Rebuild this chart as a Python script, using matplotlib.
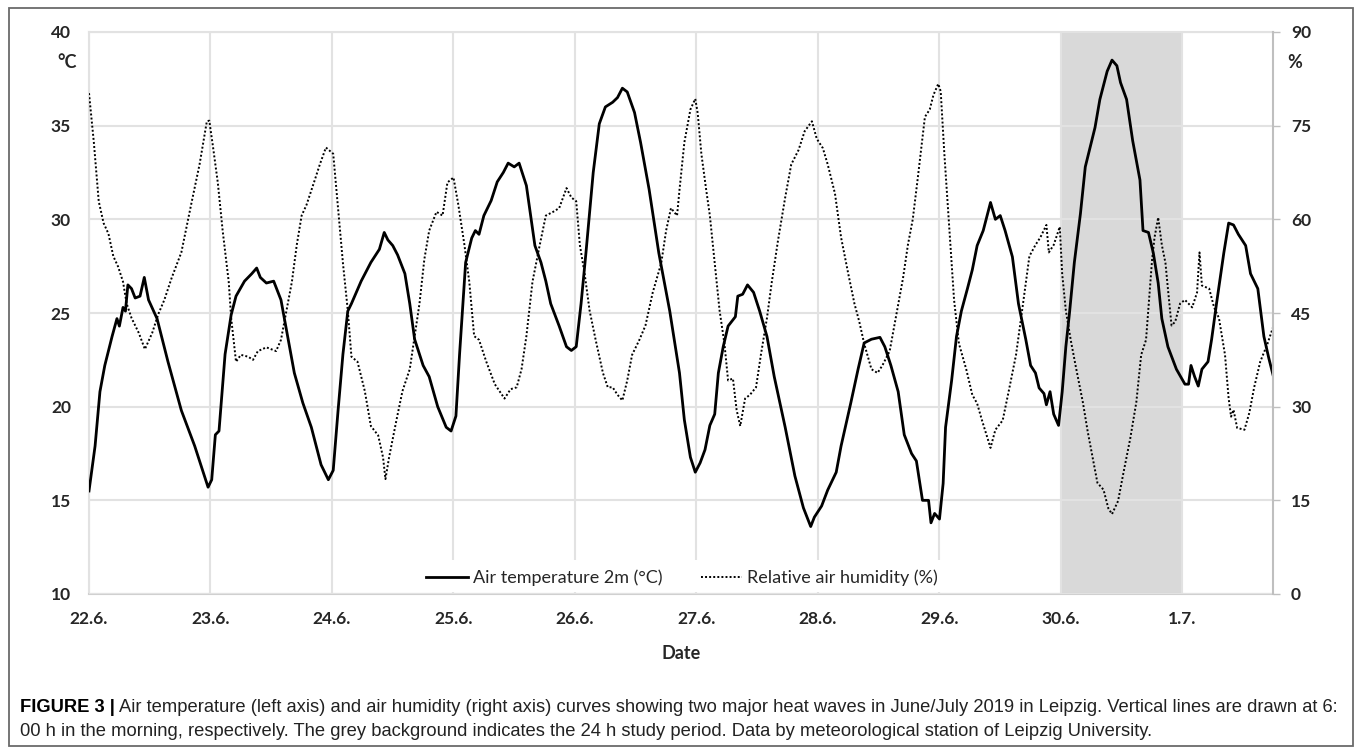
import numpy as np
import matplotlib.pyplot as plt
from matplotlib.patches import Rectangle
from matplotlib.lines import Line2D

## Daten (Tage ab 22.6. 6:00 h)
temp_day = [0.00, 0.05, 0.09, 0.13, 0.19, 0.23, 0.25, 0.28, 0.30, 0.32, 0.35, 0.38, 0.42, 0.455, 0.49,
            0.56, 0.65, 0.76, 0.87, 0.94, 0.98, 1.01, 1.04, 1.07, 1.12, 1.17, 1.21, 1.28, 1.34, 1.38,
            1.41, 1.46, 1.52, 1.58, 1.69, 1.76, 1.83, 1.91, 1.97, 2.01, 2.05, 2.09, 2.13, 2.16, 2.24,
            2.32, 2.39, 2.43, 2.46, 2.50, 2.54, 2.60, 2.64, 2.68, 2.75, 2.80, 2.87, 2.94, 2.98, 3.02,
            3.05, 3.10, 3.15, 3.18, 3.21, 3.25, 3.31, 3.36, 3.41, 3.45, 3.50, 3.54, 3.60, 3.67, 3.72,
            3.76, 3.80, 3.87, 3.93, 3.97, 4.01, 4.05, 4.09, 4.15, 4.20, 4.25, 4.31, 4.35, 4.39, 4.43,
            4.49, 4.54, 4.61, 4.69, 4.78, 4.86, 4.90, 4.95, 4.99, 5.03, 5.07, 5.11, 5.15, 5.18, 5.22,
            5.26, 5.32, 5.34, 5.38, 5.42, 5.47, 5.52, 5.58, 5.64, 5.73, 5.81, 5.88, 5.94, 5.97, 6.03,
            6.08, 6.15, 6.19, 6.27, 6.33, 6.38, 6.44, 6.51, 6.55, 6.60, 6.66, 6.71, 6.77, 6.81, 6.86,
            6.91, 6.93, 6.96, 7.00, 7.03, 7.05, 7.10, 7.14, 7.18, 7.23, 7.27, 7.31, 7.36, 7.42, 7.46,
            7.50, 7.54, 7.60, 7.65, 7.71, 7.75, 7.79, 7.82, 7.86, 7.88, 7.91, 7.94, 7.98, 8.01, 8.04,
            8.07, 8.11, 8.16, 8.20, 8.28, 8.32, 8.38, 8.42, 8.46, 8.49, 8.54, 8.59, 8.65, 8.675, 8.72,
            8.76, 8.80, 8.83, 8.88, 8.95, 9.02, 9.05, 9.07, 9.10, 9.13, 9.16, 9.21, 9.24, 9.28, 9.34,
            9.38, 9.42, 9.46, 9.52, 9.56, 9.62, 9.67, 9.71, 9.745]
temp_val = [15.5, 17.9, 20.8, 22.2, 23.75, 24.7, 24.3, 25.3, 25.1, 26.5, 26.3, 25.8, 25.9, 26.9, 25.7,
            24.7, 22.4, 19.8, 17.9, 16.5, 15.7, 16.1, 18.5, 18.7, 22.8, 24.9, 25.9, 26.7, 27.1, 27.4,
            26.9, 26.6, 26.7, 25.7, 21.8, 20.2, 18.9, 16.9, 16.1, 16.6, 19.8, 22.8, 25.1, 25.5, 26.7,
            27.7, 28.4, 29.3, 28.9, 28.6, 28.1, 27.1, 25.5, 23.6, 22.2, 21.6, 20.0, 18.9, 18.7, 19.5,
            22.8, 27.7, 29.0, 29.4, 29.2, 30.2, 31.0, 32.0, 32.5, 33.0, 32.8, 33.0, 31.8, 28.6, 27.7,
            26.7, 25.5, 24.3, 23.2, 23.0, 23.2, 25.5, 28.2, 32.5, 35.1, 36.0, 36.25, 36.5, 37.0, 36.8,
            35.7, 34.1, 31.6, 28.2, 25.1, 21.8, 19.3, 17.3, 16.5, 17.0, 17.7, 19.0, 19.6, 21.8, 23.2,
            24.3, 24.8, 25.9, 26.0, 26.5, 26.1, 25.1, 23.75, 21.6, 18.9, 16.3, 14.6, 13.6, 14.1, 14.7,
            15.55, 16.5, 17.9, 20.2, 22.0, 23.4, 23.6, 23.7, 23.2, 22.2, 20.8, 18.5, 17.5, 17.1, 15.0,
            15.0, 13.8, 14.3, 14.0, 15.9, 18.9, 21.4, 23.75, 25.1, 26.3, 27.3, 28.6, 29.4, 30.9, 30.0,
            30.2, 29.4, 28.0, 25.5, 23.6, 22.2, 21.8, 21.0, 20.7, 20.1, 20.8, 19.6, 19.0, 20.8, 23.2,
            25.0, 27.7, 30.3, 32.8, 34.9, 36.4, 37.9, 38.5, 38.2, 37.3, 36.4, 34.2, 32.1, 29.4, 29.3,
            28.2, 26.6, 24.7, 23.2, 22.0, 21.2, 21.2, 22.2, 21.6, 21.1, 22.0, 22.4, 23.6, 25.5, 28.2,
            29.8, 29.7, 29.2, 28.6, 27.1, 26.3, 23.75, 22.6, 21.7]

hum_day = [0.00, 0.04, 0.08, 0.12, 0.16, 0.20, 0.24, 0.28, 0.31, 0.35, 0.41, 0.46, 0.52, 0.57, 0.62,
           0.68, 0.76, 0.84, 0.91, 0.97, 0.99, 1.02, 1.06, 1.10, 1.15, 1.17, 1.21, 1.25, 1.31, 1.35,
           1.39, 1.46, 1.54, 1.58, 1.62, 1.67, 1.71, 1.75, 1.79, 1.86, 1.90, 1.95, 2.01, 2.05, 2.09,
           2.13, 2.16, 2.21, 2.27, 2.32, 2.38, 2.42, 2.44, 2.47, 2.53, 2.58, 2.64, 2.68, 2.72, 2.76,
           2.80, 2.86, 2.91, 2.95, 3.00, 3.04, 3.09, 3.13, 3.17, 3.21, 3.27, 3.34, 3.42, 3.47, 3.52,
           3.56, 3.60, 3.65, 3.71, 3.76, 3.82, 3.87, 3.93, 3.97, 4.01, 4.04, 4.08, 4.12, 4.17, 4.23,
           4.27, 4.31, 4.35, 4.39, 4.43, 4.47, 4.53, 4.58, 4.64, 4.71, 4.75, 4.79, 4.84, 4.86, 4.90,
           4.95, 4.99, 5.01, 5.04, 5.08, 5.11, 5.15, 5.19, 5.23, 5.26, 5.30, 5.33, 5.36, 5.40, 5.44,
           5.49, 5.53, 5.58, 5.62, 5.67, 5.73, 5.78, 5.84, 5.89, 5.95, 5.99, 6.04, 6.08, 6.14, 6.19,
           6.25, 6.30, 6.34, 6.38, 6.44, 6.49, 6.53, 6.59, 6.64, 6.70, 6.74, 6.78, 6.82, 6.88, 6.92,
           6.95, 6.99, 7.01, 7.04, 7.08, 7.12, 7.16, 7.22, 7.27, 7.31, 7.35, 7.42, 7.46, 7.52, 7.57,
           7.63, 7.68, 7.74, 7.79, 7.83, 7.88, 7.90, 7.94, 7.99, 8.01, 8.04, 8.08, 8.12, 8.18, 8.22,
           8.26, 8.30, 8.35, 8.39, 8.42, 8.47, 8.51, 8.57, 8.62, 8.66, 8.70, 8.75, 8.77, 8.80, 8.83,
           8.86, 8.88, 8.91, 8.94, 8.98, 9.02, 9.08, 9.12, 9.14, 9.16, 9.22, 9.26, 9.30, 9.35, 9.38,
           9.40, 9.42, 9.45, 9.51, 9.55, 9.59, 9.64, 9.70, 9.745]
hum_val = [80.2, 72.3, 62.9, 59.4, 57.7, 54.1, 52.4, 50.0, 46.5, 44.2, 41.8, 39.2, 41.8, 44.8, 47.1,
           50.6, 54.7, 62.3, 68.8, 75.7, 75.8, 71.7, 65.9, 58.2, 50.0, 44.2, 37.2, 38.3, 38.0, 37.5,
           38.9, 39.5, 38.9, 40.7, 44.8, 50.0, 55.9, 60.6, 62.3, 66.4, 68.8, 71.5, 70.5, 61.8, 53.0,
           45.4, 38.0, 37.2, 32.5, 26.9, 25.4, 21.9, 18.4, 21.9, 27.8, 32.5, 36.0, 41.3, 46.5, 53.6,
           58.2, 61.2, 60.6, 65.9, 66.7, 62.3, 55.9, 50.0, 41.3, 40.7, 37.2, 33.6, 31.3, 32.8, 33.1,
           36.0, 41.3, 50.0, 55.9, 60.6, 61.2, 61.8, 65.0, 63.5, 62.9, 55.9, 51.2, 45.4, 40.7, 35.4,
           33.1, 33.1, 31.9, 31.0, 34.2, 38.3, 40.7, 43.0, 48.3, 53.0, 58.2, 61.8, 60.6, 64.7, 72.3,
           77.6, 79.3, 77.0, 70.5, 64.7, 60.6, 53.0, 45.4, 40.1, 34.2, 34.5, 29.5, 26.9, 31.3, 31.9,
           33.1, 38.3, 44.2, 50.0, 56.5, 63.5, 68.8, 71.1, 74.1, 75.7, 72.9, 71.4, 68.8, 64.1, 57.1,
           51.2, 46.5, 43.6, 40.1, 36.0, 35.4, 36.6, 38.9, 44.2, 50.6, 55.9, 60.0, 66.4, 76.4, 77.6,
           79.9, 81.7, 80.5, 70.5, 58.8, 47.1, 40.1, 36.0, 31.9, 30.5, 27.8, 23.4, 26.3, 27.8, 32.5,
           38.3, 45.4, 54.1, 55.9, 57.1, 59.1, 54.7, 55.9, 58.8, 51.2, 45.4, 40.7, 36.6, 30.7, 26.0,
           21.9, 17.8, 16.7, 13.7, 12.8, 14.9, 19.0, 24.9, 30.7, 38.3, 40.7, 53.6, 57.1, 60.3, 55.9,
           53.0, 48.9, 43.0, 43.6, 46.5, 47.1, 45.9, 48.3, 54.7, 49.4, 48.9, 45.9, 44.2, 38.3, 31.3,
           28.4, 29.5, 26.6, 26.3, 29.0, 33.1, 37.2, 40.1, 42.7]

day_labels = ['22.6.', '23.6.', '24.6.', '25.6.', '26.6.', '27.6.', '28.6.', '29.6.', '30.6.', '1.7.']
study_start, study_end = 8, 9      # 30.6. 6:00 bis 1.7. 6:00

temp_ticks = [10, 15, 20, 25, 30, 35, 40]
hum_ticks = [0, 15, 30, 45, 60, 75, 90]

caption_bold = 'FIGURE 3 |'
caption_1 = ('Air temperature (left axis) and air humidity (right axis) curves showing two major heat '
             'waves in June/July 2019 in Leipzig. Vertical lines are drawn at 6:')
caption_2 = ('00 h in the morning, respectively. The grey background indicates the 24 h study period. '
             'Data by meteorological station of Leipzig University.')

## Plotten
plt.rcParams['font.family'] = ['Lato', 'DejaVu Sans']
W, H = 1355, 750
fig = plt.figure(figsize=(W / 100, H / 100), dpi=100)
ax = fig.add_axes([89 / W, 1 - 594 / H, (1273 - 89) / W, (594 - 32) / H])
ax2 = ax.twinx()

gridc = '#e2e2e2'
ax.axvspan(study_start, study_end, color='#d9d9d9', lw=0, zorder=1)
ax.plot(temp_day, temp_val, c='black', lw=2.0, zorder=3, solid_joinstyle='round')
ax2.plot(hum_day, hum_val, c='black', lw=1.4, ls=(0, (1, 1.1)))

ax.set_xlim(0, 9.745)
ax.set_ylim(10, 40)
ax2.set_ylim(0, 90)
ax.set_xticks(range(len(day_labels)))
ax.set_xticklabels(day_labels, fontweight='bold', fontsize=12.5)
ax.set_yticks(temp_ticks)
ax.set_yticklabels([str(t) for t in temp_ticks], fontweight='bold', fontsize=12.5)
ax2.set_yticks(hum_ticks)
ax2.set_yticklabels([str(t) for t in hum_ticks], fontweight='bold', fontsize=12.5)

ax.set_axisbelow(False)
ax.grid(True, color=gridc, lw=1.5, zorder=2.5)
ax.tick_params(axis='both', length=0, colors='#262626')
ax.tick_params(axis='x', pad=12)
ax.tick_params(axis='y', pad=13)
ax2.tick_params(axis='y', length=5, width=1, color='#bfbfbf', labelcolor='#262626', pad=8)

for s in ['left', 'top']:
    ax.spines[s].set_color(gridc)
    ax.spines[s].set_linewidth(1.5)
ax.spines['right'].set_visible(False)
ax.spines['bottom'].set_color('#d0d0d0')
ax.spines['bottom'].set_linewidth(1.5)
for s in ['left', 'top', 'bottom']:
    ax2.spines[s].set_visible(False)
ax2.spines['right'].set_color('#bfbfbf')
ax2.spines['right'].set_linewidth(1.5)

ax.set_xlabel('Date', fontweight='bold', fontsize=13, labelpad=13, color='#262626')
fig.text(67 / W, 1 - 63 / H, '°C', fontweight='bold', fontsize=13, ha='center', va='center', color='#262626')
fig.text(1295 / W, 1 - 63 / H, '%', fontweight='bold', fontsize=13, ha='center', va='center', color='#262626')

# weisser Legendenhintergrund
ax.add_patch(Rectangle((0.256, 0.004), 0.491, 0.057, transform=ax.transAxes,
                       facecolor='white', edgecolor='none', zorder=2.7))
handles = [Line2D([], [], c='black', lw=2.0),
           Line2D([], [], c='black', lw=1.4, ls=(0, (1, 1.1)))]
ax2.legend(handles, ['Air temperature 2m (°C)', 'Relative air humidity (%)'], ncol=2,
           loc='center', bbox_to_anchor=(0.501, 0.029), frameon=False, fontsize=13,
           handlelength=2.3, handletextpad=0.3, columnspacing=2.1, labelcolor='#262626')

# Rahmen und Bildunterschrift
fig.patches.append(Rectangle((9 / W, 1 - 746 / H), (1353 - 9) / W, (746 - 8) / H,
                             transform=fig.transFigure, fill=False, edgecolor='#6a6a6a', lw=1.3))
capfont = ['Liberation Sans', 'DejaVu Sans']
cap_size = 13
tb = fig.text(20 / W, 1 - 707 / H, caption_bold, family=capfont, fontweight='bold', fontsize=cap_size,
              va='center')
t1 = fig.text(0, 1 - 707 / H, caption_1, family=capfont, fontsize=cap_size, va='center', color='#222222')
t2 = fig.text(20 / W, 1 - 732 / H, caption_2, family=capfont, fontsize=cap_size, va='center',
              color='#222222')
# Schriftgroesse so waehlen, dass Zeile 1 bei x=1337 endet
r = fig.canvas.get_renderer()
wb = tb.get_window_extent(r).width
w1 = t1.get_window_extent(r).width
cap_size = cap_size * (1337 - 20 - 4) / (wb + w1)
for t in (tb, t1, t2):
    t.set_fontsize(cap_size)
bb = tb.get_window_extent(r)
t1.set_x((bb.x1 + 4) / W)

fig.savefig('out.png', dpi=100)
